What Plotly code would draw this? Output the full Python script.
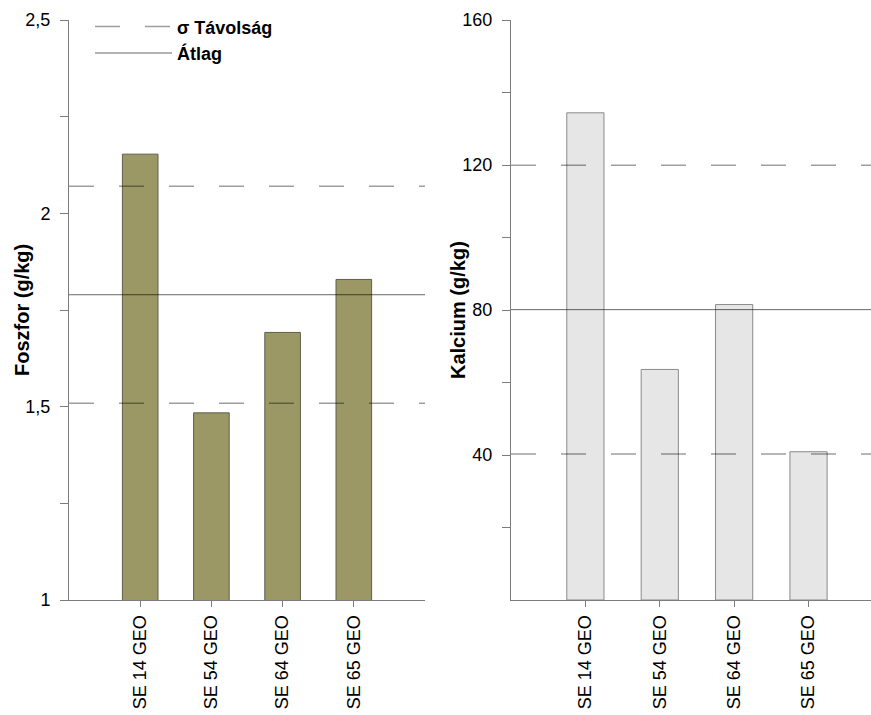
import numpy as np
import plotly.graph_objects as go
from plotly.subplots import make_subplots

categories = ["SE 14 GEO", "SE 54 GEO", "SE 64 GEO", "SE 65 GEO"]
foszfor = [2.153, 1.484, 1.692, 1.829]
kalcium = [134.4, 63.6, 81.5, 40.9]

p_tickvals = [1, 1.25, 1.5, 1.75, 2, 2.25, 2.5]
p_ticktext = ["1", "", "1,5", "", "2", "", "2,5"]
ca_tickvals = [20, 40, 60, 80, 100, 120, 140, 160]
ca_ticktext = ["", "40", "", "80", "", "120", "", "160"]

legend_sigma = "σ Távolság"
legend_mean = "Átlag"
title_p = "Foszfor (g/kg)"
title_ca = "Kalcium (g/kg)"

W, H = 871, 715
FONT = "Liberation Sans, Arial, sans-serif"
AXC = "#7c7c7c"

fig = make_subplots(rows=1, cols=2)

fig.add_trace(go.Bar(x=categories, y=foszfor, width=0.5,
                     marker=dict(color="#9b9865", line=dict(color="#5e5e4c", width=1)),
                     showlegend=False), row=1, col=1)
fig.add_trace(go.Bar(x=categories, y=kalcium, width=0.5,
                     marker=dict(color="#e6e6e6", line=dict(color="#8a8a8a", width=1)),
                     showlegend=False), row=1, col=2)

def ref_lines(vals, xref, yref, legend):
    m = float(np.mean(vals))
    s = float(np.std(vals, ddof=1))
    shapes = []
    for i, yv in enumerate([m + s, m - s]):
        d = dict(type="line", xref=xref + " domain", yref=yref, x0=0, x1=1, y0=yv, y1=yv,
                 layer="above", line=dict(color="rgba(0,0,0,0.38)", width=1.5, dash="25px,25px"))
        if legend and i == 0:
            d.update(showlegend=True, name=legend_sigma, legendrank=1)
        shapes.append(d)
    d = dict(type="line", xref=xref + " domain", yref=yref, x0=0, x1=1, y0=m, y1=m,
             layer="above", line=dict(color="rgba(0,0,0,0.6)", width=1))
    if legend:
        d.update(showlegend=True, name=legend_mean, legendrank=2)
    shapes.append(d)
    return shapes

shapes = ref_lines(foszfor, "x", "y", True) + ref_lines(kalcium, "x2", "y2", False)

fig.update_layout(
    width=W, height=H, autosize=False,
    margin=dict(l=0, r=0, t=20, b=115),
    plot_bgcolor="white", paper_bgcolor="white",
    font=dict(family=FONT, size=18, color="black"),
    separators=", ",
    bargap=0.5,
    shapes=shapes,
    showlegend=True,
    legend=dict(x=90 / W, y=1.02, xanchor="left", yanchor="top",
                font=dict(size=18, weight="bold"), bgcolor="rgba(0,0,0,0)",
                itemwidth=77, tracegroupgap=0),
    annotations=[
        dict(text=title_p, xref="paper", yref="paper", x=22 / W, y=0.5, textangle=-90,
             showarrow=False, xanchor="center", yanchor="middle",
             font=dict(size=20, weight="bold")),
        dict(text=title_ca, xref="paper", yref="paper", x=458 / W, y=0.5, textangle=-90,
             showarrow=False, xanchor="center", yanchor="middle",
             font=dict(size=20, weight="bold")),
    ],
)

xcommon = dict(showline=True, linecolor=AXC, linewidth=1, ticks="outside", ticklen=6,
               tickcolor=AXC, tickangle=-90, showgrid=False, zeroline=False,
               tickfont=dict(size=18), ticklabelstandoff=1)
fig.update_xaxes(**xcommon)
fig.update_xaxes(domain=[69 / W, 425 / W], range=[-1, 4], row=1, col=1)
fig.update_xaxes(domain=[511 / W, 1.0], range=[-1, 3.84], row=1, col=2)

ycommon = dict(showline=True, linecolor=AXC, linewidth=1, ticks="outside", ticklen=8,
               tickcolor=AXC, showgrid=False, zeroline=False, tickfont=dict(size=18),
               ticklabelstandoff=6)
fig.update_yaxes(**ycommon)
fig.update_yaxes(range=[1, 2.5], tickmode="array", tickvals=p_tickvals, ticktext=p_ticktext,
                 row=1, col=1)
fig.update_yaxes(range=[0, 160], tickmode="array", tickvals=ca_tickvals, ticktext=ca_ticktext,
                 row=1, col=2)

fig.write_html("out.html")
